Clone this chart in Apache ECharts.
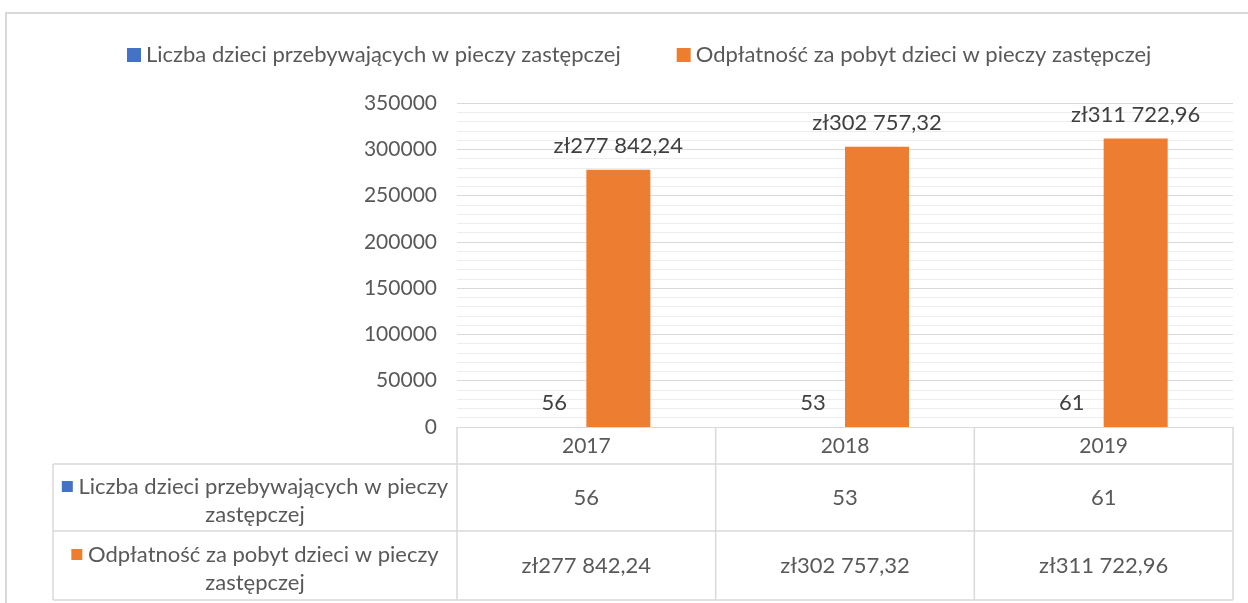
<!DOCTYPE html>
<html>
<head>
<meta charset="utf-8">
<script src="https://cdn.jsdelivr.net/npm/echarts@6/dist/echarts.min.js"></script>
<style>
html,body{margin:0;padding:0;background:#fff;}
#c{width:1248px;height:603px;}
</style>
</head>
<body>
<div id="c"></div>
<script>
const categories = ['2017', '2018', '2019'];
const seriesNames = [
  'Liczba dzieci przebywających w pieczy zastępczej',
  'Odpłatność za pobyt dzieci w pieczy zastępczej'
];
const childrenCount = [56, 53, 61];
const payment = [277842.24, 302757.32, 311722.96];
const yMin = 0, yMax = 350000, yInterval = 50000;
const colors = ['#4472C4', '#ED7D31'];

const FONT = 'Lato';
const TXT = '#595959';

function formatPLN(v) {
  const parts = v.toFixed(2).split('.');
  const intPart = parts[0].replace(/\B(?=(\d{3})+(?!\d))/g, ' ');
  return 'zł' + intPart + ',' + parts[1];
}
function formatCount(v) { return String(v); }
const formatters = [formatCount, formatPLN];
const seriesData = [childrenCount, payment];

const chart = echarts.init(document.getElementById('c'), null, {renderer: 'canvas'});

const gridBox = {left: 457, right: 15, top: 103, bottom: 176};

const option = {
  animation: false,
  backgroundColor: '#fff',
  color: colors,
  textStyle: {fontFamily: FONT},
  legend: {
    top: 39,
    left: 122,
    icon: 'rect',
    itemWidth: 14,
    itemHeight: 14,
    itemGap: 56,
    textStyle: {color: TXT, fontSize: 22, fontFamily: FONT},
    data: seriesNames
  },
  grid: gridBox,
  xAxis: {
    type: 'category',
    data: categories,
    axisLine: {show: true, lineStyle: {color: '#d9d9d9', width: 1}},
    axisTick: {show: false},
    axisLabel: {color: TXT, fontSize: 21, fontFamily: FONT, margin: 9},
    splitLine: {show: false}
  },
  yAxis: {
    type: 'value',
    min: yMin,
    max: yMax,
    interval: yInterval,
    axisLine: {show: false},
    axisTick: {show: false},
    axisLabel: {color: TXT, fontSize: 21, fontFamily: FONT, margin: 20,
      formatter: v => String(v)},
    splitLine: {show: true, lineStyle: {color: '#d9d9d9', width: 1}},
    minorTick: {show: false, splitNumber: 5},
    minorSplitLine: {show: true, lineStyle: {color: '#ededed', width: 1}}
  },
  series: seriesNames.map((name, i) => ({
    name: name,
    type: 'bar',
    data: seriesData[i],
    barWidth: 64,
    barGap: '0%',
    itemStyle: {color: colors[i]},
    label: {
      show: true,
      position: 'top',
      distance: 13,
      color: '#404040',
      fontSize: 22,
      fontFamily: FONT,
      formatter: p => formatters[i](p.value)
    }
  }))
};
chart.setOption(option);

// Data table below the plot
function buildTable() {
  const plotBottom = 603 - gridBox.bottom;
  const plotRight = 1248 - gridBox.right;
  const plotLeft = gridBox.left;
  const tableLeft = 53;
  const rowLines = [plotBottom, 464, 531, 600];
  const lineColor = '#d9d9d9';
  const centers = categories.map((c, i) => chart.convertToPixel({xAxisIndex: 0}, i));
  const band = (plotRight - plotLeft) / categories.length;
  const bounds = [plotLeft].concat(centers.map(c => c + band / 2));
  const els = [];
  // outer chart border
  els.push({type: 'rect', shape: {x: 6, y: 13, width: 1400, height: 800},
    style: {fill: null, stroke: '#d9d9d9', lineWidth: 2}, silent: true});
  // horizontal lines
  for (let r = 1; r < rowLines.length; r++) {
    els.push({type: 'line', shape: {x1: tableLeft, y1: rowLines[r], x2: plotRight, y2: rowLines[r]},
      style: {stroke: lineColor, lineWidth: 1.5}, silent: true});
  }
  // vertical lines
  els.push({type: 'line', shape: {x1: tableLeft, y1: rowLines[1], x2: tableLeft, y2: rowLines[3]},
    style: {stroke: lineColor, lineWidth: 1.5}, silent: true});
  bounds.forEach(x => {
    els.push({type: 'line', shape: {x1: x, y1: rowLines[0], x2: x, y2: rowLines[3]},
      style: {stroke: lineColor, lineWidth: 1.5}, silent: true});
  });
  // row headers & values
  seriesNames.forEach((name, s) => {
    const top = rowLines[s + 1], bot = rowLines[s + 2];
    const cy = (top + bot) / 2 + 3;
    const cut = name.lastIndexOf(' ');
    const line1 = name.slice(0, cut), line2 = name.slice(cut + 1);
    els.push({
      type: 'text',
      x: (tableLeft + plotLeft) / 2,
      y: cy,
      silent: true,
      style: {
        text: '{m|}{t| ' + line1 + '}\n{t|' + line2 + '}',
        align: 'center',
        verticalAlign: 'middle',
        fontFamily: FONT,
        rich: {
          m: {backgroundColor: colors[s], width: 11, height: 11},
          t: {fontSize: 22, fontFamily: FONT, fill: TXT, color: TXT, lineHeight: 28}
        }
      }
    });
    seriesData[s].forEach((v, i) => {
      els.push({
        type: 'text', x: centers[i], y: (top + bot) / 2, silent: true,
        style: {text: formatters[s](v), align: 'center', verticalAlign: 'middle',
          fontSize: 22, fontFamily: FONT, fill: TXT}
      });
    });
  });
  chart.setOption({graphic: {elements: els}});
}
buildTable();
</script>
</body>
</html>
